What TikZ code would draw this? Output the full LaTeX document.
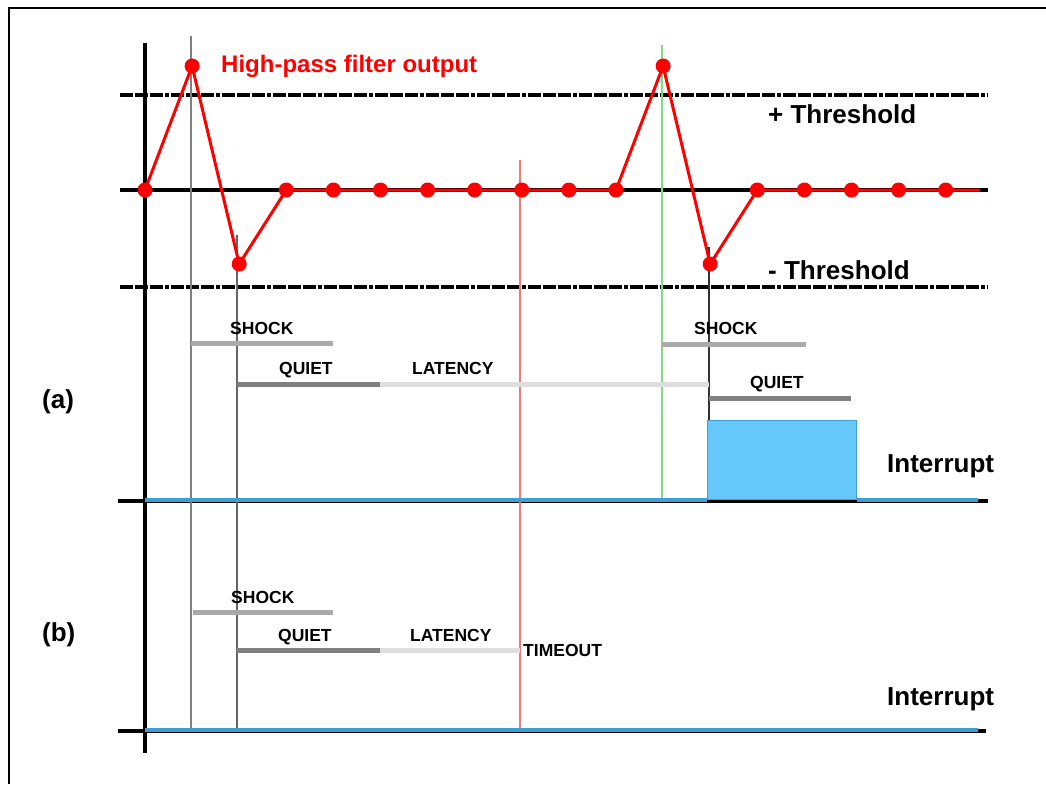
\documentclass[tikz,border=0pt]{standalone}
\usepackage{fontspec}
\setmainfont{Liberation Sans}

\definecolor{shockgray}{RGB}{170,170,170}
\definecolor{quietgray}{RGB}{128,128,128}
\definecolor{latgray}{RGB}{222,222,222}
\definecolor{irqfill}{RGB}{102,200,250}
\definecolor{irqline}{RGB}{60,160,215}
\definecolor{mkgreen}{RGB}{130,220,130}
\definecolor{mkred}{RGB}{240,120,120}

\begin{document}
\begin{tikzpicture}[x=1pt,y=-1pt]
%%%%%%%%%%%%%%%%%%%%%%%%%%%%%%%%%%%%%%%%%%%%%%%%%%%%%%%%
% STYLE
\tikzstyle{pt}=[circle,fill=red,inner sep=0pt,minimum size=15pt]
\tikzstyle{lbl}=[font=\fontsize{17.5}{20}\selectfont\bfseries,inner sep=0pt,anchor=base west]
\tikzstyle{big}=[font=\fontsize{26}{30}\selectfont\bfseries,inner sep=0pt,anchor=base west]
\tikzstyle{thr}=[line width=3.5pt,dash pattern=on 13pt off 2pt on 13pt off 2pt on 13pt off 2pt on 4pt off 2pt]
\tikzstyle{bar}=[line width=5pt]
\tikzstyle{marker}=[line width=1.2pt]

\tikzset{wave/.style={red,line width=3pt,line join=round}}
\tikzset{axis/.style={line width=4pt}}

\useasboundingbox (0,0) rectangle (1046,784);
\draw[line width=2pt] (1046,8) -- (9,8) -- (9,784);

%%%%%%%%%%%%%%%%%%%%%%%%%%%%%%%%%%%%%%%%%%%%%%%%%%%%%%%%
% AXES
\draw[thr] (120,95) -- (988,95);
\draw[thr] (120,287) -- (988,287);
\draw[axis] (120,190) -- (988,190);
\draw[axis] (145,43) -- (145,753);
\draw[axis] (118,501) -- (988,501);
\draw[axis] (118,731) -- (986,731);

% markers
\draw[marker,gray] (191,36) -- (191,730);
\draw[marker,darkgray!80] (237,235) -- (237,730);
\draw[marker,mkred] (520,160) -- (520,730);
\draw[marker,mkgreen] (662,45) -- (662,500);
\draw[marker,black!80] (709,247) -- (709,500);

%%%%%%%%%%%%%%%%%%%%%%%%%%%%%%%%%%%%%%%%%%%%%%%%%%%%%%%%
% NODES
\foreach \k/\yy in {0/190,1/66,2/264,3/190,4/190,5/190,6/190,7/190,8/190,
  9/190,10/190,11/66,12/264,13/190,14/190,15/190,16/190,17/190}
  \node[pt] (P\k) at ({145+47.1*\k},\yy) {};
\coordinate (Pend) at (980,190);

\node[big,red,font=\fontsize{24}{28}\selectfont\bfseries] (hpf) at (221,73) {High-pass filter output};
\node[big] (thrp) at (768,123) {+ Threshold};
\node[big] (thrm) at (768,279) {- Threshold};

\node[big] (ca) at (42,408) {(a)};
\node[big] (cb) at (42,641) {(b)};

\node[lbl] (shockA) at (230,334) {SHOCK};
\node[lbl] (quietA) at (279,374) {QUIET};
\node[lbl] (latA) at (412,374) {LATENCY};
\node[lbl] (shockC) at (694,334) {SHOCK};
\node[lbl] (quietC) at (750,388) {QUIET};

\node[lbl] (shockB) at (231,603) {SHOCK};
\node[lbl] (quietB) at (278,641) {QUIET};
\node[lbl] (latB) at (410,641) {LATENCY};
\node[lbl] (tmo) at (523,656) {TIMEOUT};

\node[big] (irqA) at (887,472) {Interrupt};
\node[big] (irqB) at (887,705) {Interrupt};

\node[draw=irqline,fill=irqfill,line width=1pt,inner sep=0pt,minimum width=149pt,
  minimum height=79pt,anchor=south west] (pulse) at (707,500) {};

%%%%%%%%%%%%%%%%%%%%%%%%%%%%%%%%%%%%%%%%%%%%%%%%%%%%%%%%
% LINKS
\draw[wave] (P0.center) \foreach \k in {1,...,17} {-- (P\k.center)} -- (Pend);

\draw[irqline,line width=3.5pt] (145,500) -- (pulse.south west);
\draw[irqline,line width=3.5pt] (pulse.south east) -- (978,500);
\draw[irqline,line width=3.5pt] (145,730) -- (978,730);

% (a)
\draw[bar,shockgray] (191,343) -- (333,343);
\draw[bar,quietgray] (237,384) -- (380,384);
\draw[bar,latgray] (380,384) -- (709,384);
\draw[bar,shockgray] (662,344) -- (806,344);
\draw[bar,quietgray] (709,398) -- (851,398);

% (b)
\draw[bar,shockgray] (193,612) -- (333,612);
\draw[bar,quietgray] (237,650) -- (380,650);
\draw[bar,latgray] (380,650) -- (520,650);
\end{tikzpicture}
\end{document}
